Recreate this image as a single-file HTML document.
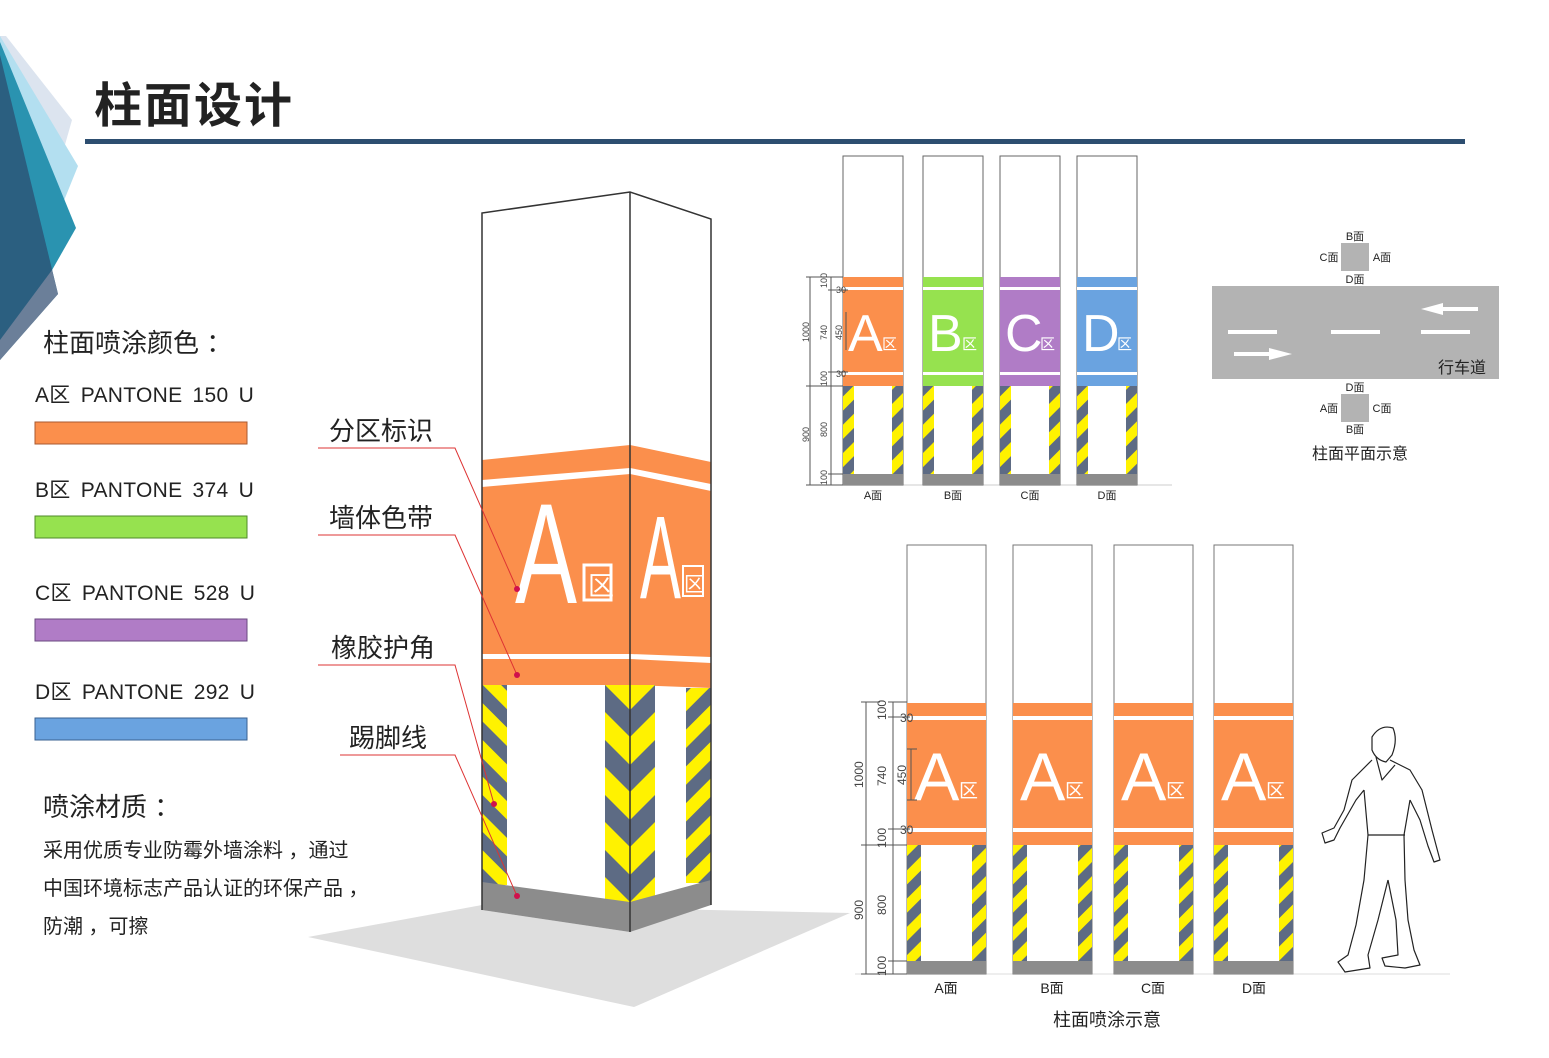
<!DOCTYPE html>
<html><head><meta charset="utf-8"><style>
html,body{margin:0;padding:0;background:#fff;}
svg{display:block;}
text{font-family:"Liberation Sans","Noto Sans CJK SC",sans-serif;}
</style></head><body>
<svg width="1549" height="1058" viewBox="0 0 1549 1058" xmlns="http://www.w3.org/2000/svg">
<defs>
<pattern id="hz" width="20" height="20" patternUnits="userSpaceOnUse" patternTransform="rotate(45)">
<rect width="20" height="20" fill="#fff200"/><rect width="10" height="20" fill="#5d6b84"/>
</pattern>
<pattern id="hz2" width="26" height="26" patternUnits="userSpaceOnUse" patternTransform="rotate(-45)">
<rect width="26" height="26" fill="#fff200"/><rect width="13" height="26" fill="#5d6b84"/>
</pattern>
<pattern id="hz3" width="26" height="26" patternUnits="userSpaceOnUse" patternTransform="rotate(45)">
<rect width="26" height="26" fill="#fff200"/><rect width="13" height="26" fill="#5d6b84"/>
</pattern>
<g id="tc">
<rect x="0" y="0" width="60" height="329" fill="#fff" stroke="#666" stroke-width="1"/>
<rect x="0" y="230" width="11" height="88" fill="url(#hz)"/>
<rect x="49" y="230" width="11" height="88" fill="url(#hz)"/>
<rect x="0" y="318" width="60" height="11" fill="#8c8c8c"/>
</g>
<g id="bc">
<rect x="0" y="0" width="79" height="429" fill="#fff" stroke="#777" stroke-width="1"/>
<rect x="0" y="158" width="79" height="142" fill="#fb8f4c"/>
<rect x="0" y="171" width="79" height="4" fill="#fff"/>
<rect x="0" y="283" width="79" height="4" fill="#fff"/>
<rect x="0" y="300" width="14" height="116" fill="url(#hz)"/>
<rect x="65" y="300" width="14" height="116" fill="url(#hz)"/>
<rect x="0" y="416" width="79" height="13" fill="#8c8c8c"/>
</g>
</defs>

<polygon points="0,36 6,36 72,120 55,180 0,110" fill="#dce4ef"/>
<polygon points="0,36 78,166 48,240 0,150" fill="#b3dff0"/>
<polygon points="0,42 76,228 35,300 0,250" fill="#2a93b0"/>
<polygon points="0,55 58,294 0,360" fill="#2b5f80"/>
<polygon points="52,270 58,294 0,360 0,340" fill="#6b7f99"/>

<text x="94" y="122" font-size="48" font-weight="bold" fill="#222" letter-spacing="2">柱面设计</text>
<rect x="85" y="139" width="1380" height="5" fill="#2d4e70"/>

<text x="43" y="352" font-size="26" fill="#222">柱面喷涂颜色 ：</text>
<g font-size="21" fill="#222" letter-spacing="0.3" word-spacing="4">
<text x="35" y="402">A区 PANTONE 150 U</text>
<text x="35" y="497">B区 PANTONE 374 U</text>
<text x="35" y="600">C区 PANTONE 528 U</text>
<text x="35" y="699">D区 PANTONE 292 U</text>
</g>
<rect x="35" y="422" width="212" height="22" fill="#fb8f4c" stroke="#a85a30"/>
<rect x="35" y="516" width="212" height="22" fill="#96e24f" stroke="#4f8a2a"/>
<rect x="35" y="619" width="212" height="22" fill="#b07cc6" stroke="#6a4a80"/>
<rect x="35" y="718" width="212" height="22" fill="#6aa3e0" stroke="#3a6090"/>
<text x="43" y="816" font-size="26" fill="#222">喷涂材质 ：</text>
<text x="43" y="857" font-size="20" fill="#222">采用优质专业防霉外墙涂料 ，通过</text>
<text x="43" y="895" font-size="20" fill="#222">中国环境标志产品认证的环保产品 ，</text>
<text x="43" y="933" font-size="20" fill="#222">防潮 ，可擦</text>

<polygon points="308,937 482,905 850,913 634,1007" fill="#dedede"/>

<polygon points="482,213 630,192 711,219 711,905 630,932 482,910" fill="#fff"/>
<polygon points="482,460 630,445 630,685 482,685" fill="#fb8f4c"/>
<polygon points="630,445 711,462 711,688 630,685" fill="#fb8f4c"/>
<polygon points="482,480 630,468 630,474 482,487" fill="#fff"/>
<polygon points="630,468 711,484 711,491 630,474" fill="#fff"/>
<rect x="482" y="654" width="148" height="5" fill="#fff"/>
<polygon points="630,654 711,657 711,663 630,659" fill="#fff"/>
<text transform="translate(515,603) scale(0.65,1)" font-size="143" fill="#fff">A</text>
<rect x="584" y="565" width="27" height="35" fill="none" stroke="#fff" stroke-width="3"/>
<text x="588" y="595" font-size="26" fill="#fff">区</text>
<text transform="translate(640,598) scale(0.52,1)" font-size="118" fill="#fff">A</text>
<rect x="683" y="566" width="20" height="30" fill="none" stroke="#fff" stroke-width="2"/>
<text x="684" y="591" font-size="20" fill="#fff">区</text>
<rect x="482" y="685" width="25" height="200" fill="url(#hz2)"/>
<rect x="686" y="688" width="25" height="195" fill="url(#hz3)"/>
<rect x="605" y="685" width="50" height="217" fill="#fff200"/>
<path d="M605,685 L630,710 L655,685 L655,712 L630,737 L605,712Z M605,740 L630,765 L655,740 L655,767 L630,792 L605,767Z M605,795 L630,820 L655,795 L655,822 L630,847 L605,822Z M605,850 L630,875 L655,850 L655,877 L630,902 L605,877Z" fill="#5d6b84"/>
<polygon points="482,882 630,902 630,932 482,910" fill="#8c8c8c"/>
<polygon points="630,902 711,880 711,905 630,932" fill="#8c8c8c"/>
<polyline points="482,910 482,213 630,192 711,219 711,905" fill="none" stroke="#333" stroke-width="1.5"/>
<line x1="630" y1="192" x2="630" y2="932" stroke="#333" stroke-width="1.5"/>

<g fill="#222" font-size="26">
<text x="329" y="440">分区标识</text>
<text x="329" y="527">墙体色带</text>
<text x="331" y="657">橡胶护角</text>
<text x="349" y="747">踢脚线</text>
</g>
<g stroke="#d33" stroke-width="1" fill="none">
<polyline points="318,448 455,448 517,589"/>
<polyline points="318,535 455,535 517,675"/>
<polyline points="318,665 455,665 494,804"/>
<polyline points="340,755 455,755 517,896"/>
</g>
<g fill="#d0104c">
<circle cx="517" cy="589" r="3"/><circle cx="517" cy="675" r="3"/><circle cx="494" cy="804" r="3"/><circle cx="517" cy="896" r="3"/>
</g>

<line x1="835" y1="485" x2="1172" y2="485" stroke="#ccc"/>
<use href="#tc" x="843" y="156"/>
<use href="#tc" x="923" y="156"/>
<use href="#tc" x="1000" y="156"/>
<use href="#tc" x="1077" y="156"/>
<rect x="843" y="277" width="60" height="109" fill="#fb8f4c"/>
<rect x="923" y="277" width="60" height="109" fill="#96e24f"/>
<rect x="1000" y="277" width="60" height="109" fill="#b07cc6"/>
<rect x="1077" y="277" width="60" height="109" fill="#6aa3e0"/>
<g fill="#fff">
<rect x="843" y="287" width="60" height="3"/><rect x="843" y="372" width="60" height="3"/>
<rect x="923" y="287" width="60" height="3"/><rect x="923" y="372" width="60" height="3"/>
<rect x="1000" y="287" width="60" height="3"/><rect x="1000" y="372" width="60" height="3"/>
<rect x="1077" y="287" width="60" height="3"/><rect x="1077" y="372" width="60" height="3"/>
</g>
<g fill="#fff" font-size="52">
<text x="848" y="351">A</text><text x="928" y="351">B</text><text x="1005" y="351">C</text><text x="1082" y="351">D</text>
</g>
<g fill="#fff" font-size="15">
<text x="882" y="349">区</text><text x="962" y="349">区</text><text x="1040" y="349">区</text><text x="1117" y="349">区</text>
</g>
<g fill="#222" font-size="11" text-anchor="middle">
<text x="873" y="499">A面</text><text x="953" y="499">B面</text><text x="1030" y="499">C面</text><text x="1107" y="499">D面</text>
</g>
<g stroke="#555" stroke-width="1" fill="none">
<line x1="810" y1="277" x2="810" y2="485"/>
<line x1="806" y1="277" x2="843" y2="277"/><line x1="806" y1="386" x2="843" y2="386"/><line x1="806" y1="485" x2="843" y2="485"/>
<line x1="831" y1="277" x2="831" y2="485"/>
<line x1="828" y1="290" x2="848" y2="290"/><line x1="828" y1="372" x2="848" y2="372"/><line x1="828" y1="474" x2="843" y2="474"/>
<line x1="846" y1="312" x2="846" y2="350"/>
</g>
<g fill="#444" font-size="9">
<text transform="translate(809,342) rotate(-90)">1000</text>
<text transform="translate(809,442) rotate(-90)">900</text>
<text transform="translate(827,288) rotate(-90)">100</text>
<text transform="translate(827,340) rotate(-90)">740</text>
<text transform="translate(827,386) rotate(-90)">100</text>
<text transform="translate(827,437) rotate(-90)">800</text>
<text transform="translate(827,485) rotate(-90)">100</text>
<text transform="translate(842,340) rotate(-90)">450</text>
<text x="836" y="293">30</text><text x="836" y="377">30</text>
</g>

<rect x="1341" y="243" width="28" height="28" fill="#b3b3b3"/>
<rect x="1212" y="286" width="287" height="93" fill="#b3b3b3"/>
<rect x="1341" y="394" width="28" height="28" fill="#b3b3b3"/>
<g fill="#fff">
<rect x="1228" y="330" width="49" height="4"/><rect x="1331" y="330" width="49" height="4"/><rect x="1421" y="330" width="49" height="4"/>
<rect x="1440" y="307" width="38" height="4"/><polygon points="1421,309 1443,303 1443,315"/>
<rect x="1234" y="352" width="38" height="4"/><polygon points="1292,354 1269,348 1269,360"/>
</g>
<g fill="#222" font-size="11" text-anchor="middle">
<text x="1355" y="240">B面</text><text x="1329" y="261">C面</text><text x="1382" y="261">A面</text><text x="1355" y="283">D面</text>
<text x="1355" y="391">D面</text><text x="1329" y="412">A面</text><text x="1382" y="412">C面</text><text x="1355" y="433">B面</text>
</g>
<text x="1462" y="373" font-size="16" fill="#222" text-anchor="middle">行车道</text>
<text x="1360" y="459" font-size="16" fill="#222" text-anchor="middle">柱面平面示意</text>

<line x1="855" y1="974" x2="1450" y2="974" stroke="#ddd"/>
<use href="#bc" x="907" y="545"/>
<use href="#bc" x="1013" y="545"/>
<use href="#bc" x="1114" y="545"/>
<use href="#bc" x="1214" y="545"/>
<g fill="#fff" font-size="68">
<text x="914" y="800">A</text><text x="1020" y="800">A</text><text x="1121" y="800">A</text><text x="1221" y="800">A</text>
</g>
<g fill="#fff" font-size="19">
<text x="959" y="797">区</text><text x="1065" y="797">区</text><text x="1166" y="797">区</text><text x="1266" y="797">区</text>
</g>
<g fill="#222" font-size="14" text-anchor="middle">
<text x="946" y="993">A面</text><text x="1052" y="993">B面</text><text x="1153" y="993">C面</text><text x="1254" y="993">D面</text>
</g>
<text x="1107" y="1026" font-size="18" fill="#222" text-anchor="middle">柱面喷涂示意</text>
<g stroke="#555" stroke-width="1" fill="none">
<line x1="866" y1="702" x2="866" y2="974"/>
<line x1="861" y1="702" x2="880" y2="702"/><line x1="861" y1="845" x2="907" y2="845"/><line x1="861" y1="974" x2="907" y2="974"/>
<line x1="893" y1="702" x2="893" y2="974"/>
<line x1="888" y1="702" x2="907" y2="702"/><line x1="888" y1="717" x2="910" y2="717"/><line x1="888" y1="829" x2="910" y2="829"/><line x1="888" y1="961" x2="907" y2="961"/>
<line x1="911" y1="749" x2="911" y2="800"/><line x1="907" y1="749" x2="917" y2="749"/><line x1="907" y1="800" x2="917" y2="800"/>
</g>
<g fill="#444" font-size="12">
<text transform="translate(863,788) rotate(-90)">1000</text>
<text transform="translate(863,920) rotate(-90)">900</text>
<text transform="translate(886,720) rotate(-90)">100</text>
<text transform="translate(886,786) rotate(-90)">740</text>
<text transform="translate(886,848) rotate(-90)">100</text>
<text transform="translate(886,915) rotate(-90)">800</text>
<text transform="translate(886,976) rotate(-90)">100</text>
<text transform="translate(906,785) rotate(-90)">450</text>
<text x="900" y="722">30</text><text x="900" y="834">30</text>
</g>

<g fill="none" stroke="#222" stroke-width="1.2" stroke-linejoin="round">
<path d="M1372,737 Q1380,724 1393,728 Q1398,740 1392,755 L1386,762 Q1376,760 1372,750 Z"/>
<path d="M1372,760 L1352,780 L1344,810 L1334,828 L1322,833 L1325,843 L1334,840 L1340,828 L1356,800 L1364,790"/>
<path d="M1390,760 L1410,770 L1422,790 L1432,830 L1436,845 L1440,860 L1434,862 L1428,846 L1420,820 L1410,800"/>
<path d="M1376,757 L1382,780 L1395,765"/>
<path d="M1364,790 L1368,835 L1364,880 L1356,925 L1348,955 L1338,962 L1345,972 L1370,968 L1368,955 L1378,920 L1388,880"/>
<path d="M1410,800 L1404,835 L1405,880 L1408,920 L1414,950 L1420,965 L1405,968 L1385,966 L1382,958 L1398,955 L1396,920 L1388,880"/>
<path d="M1368,835 L1405,835"/>
</g>
</svg>
</body></html>
